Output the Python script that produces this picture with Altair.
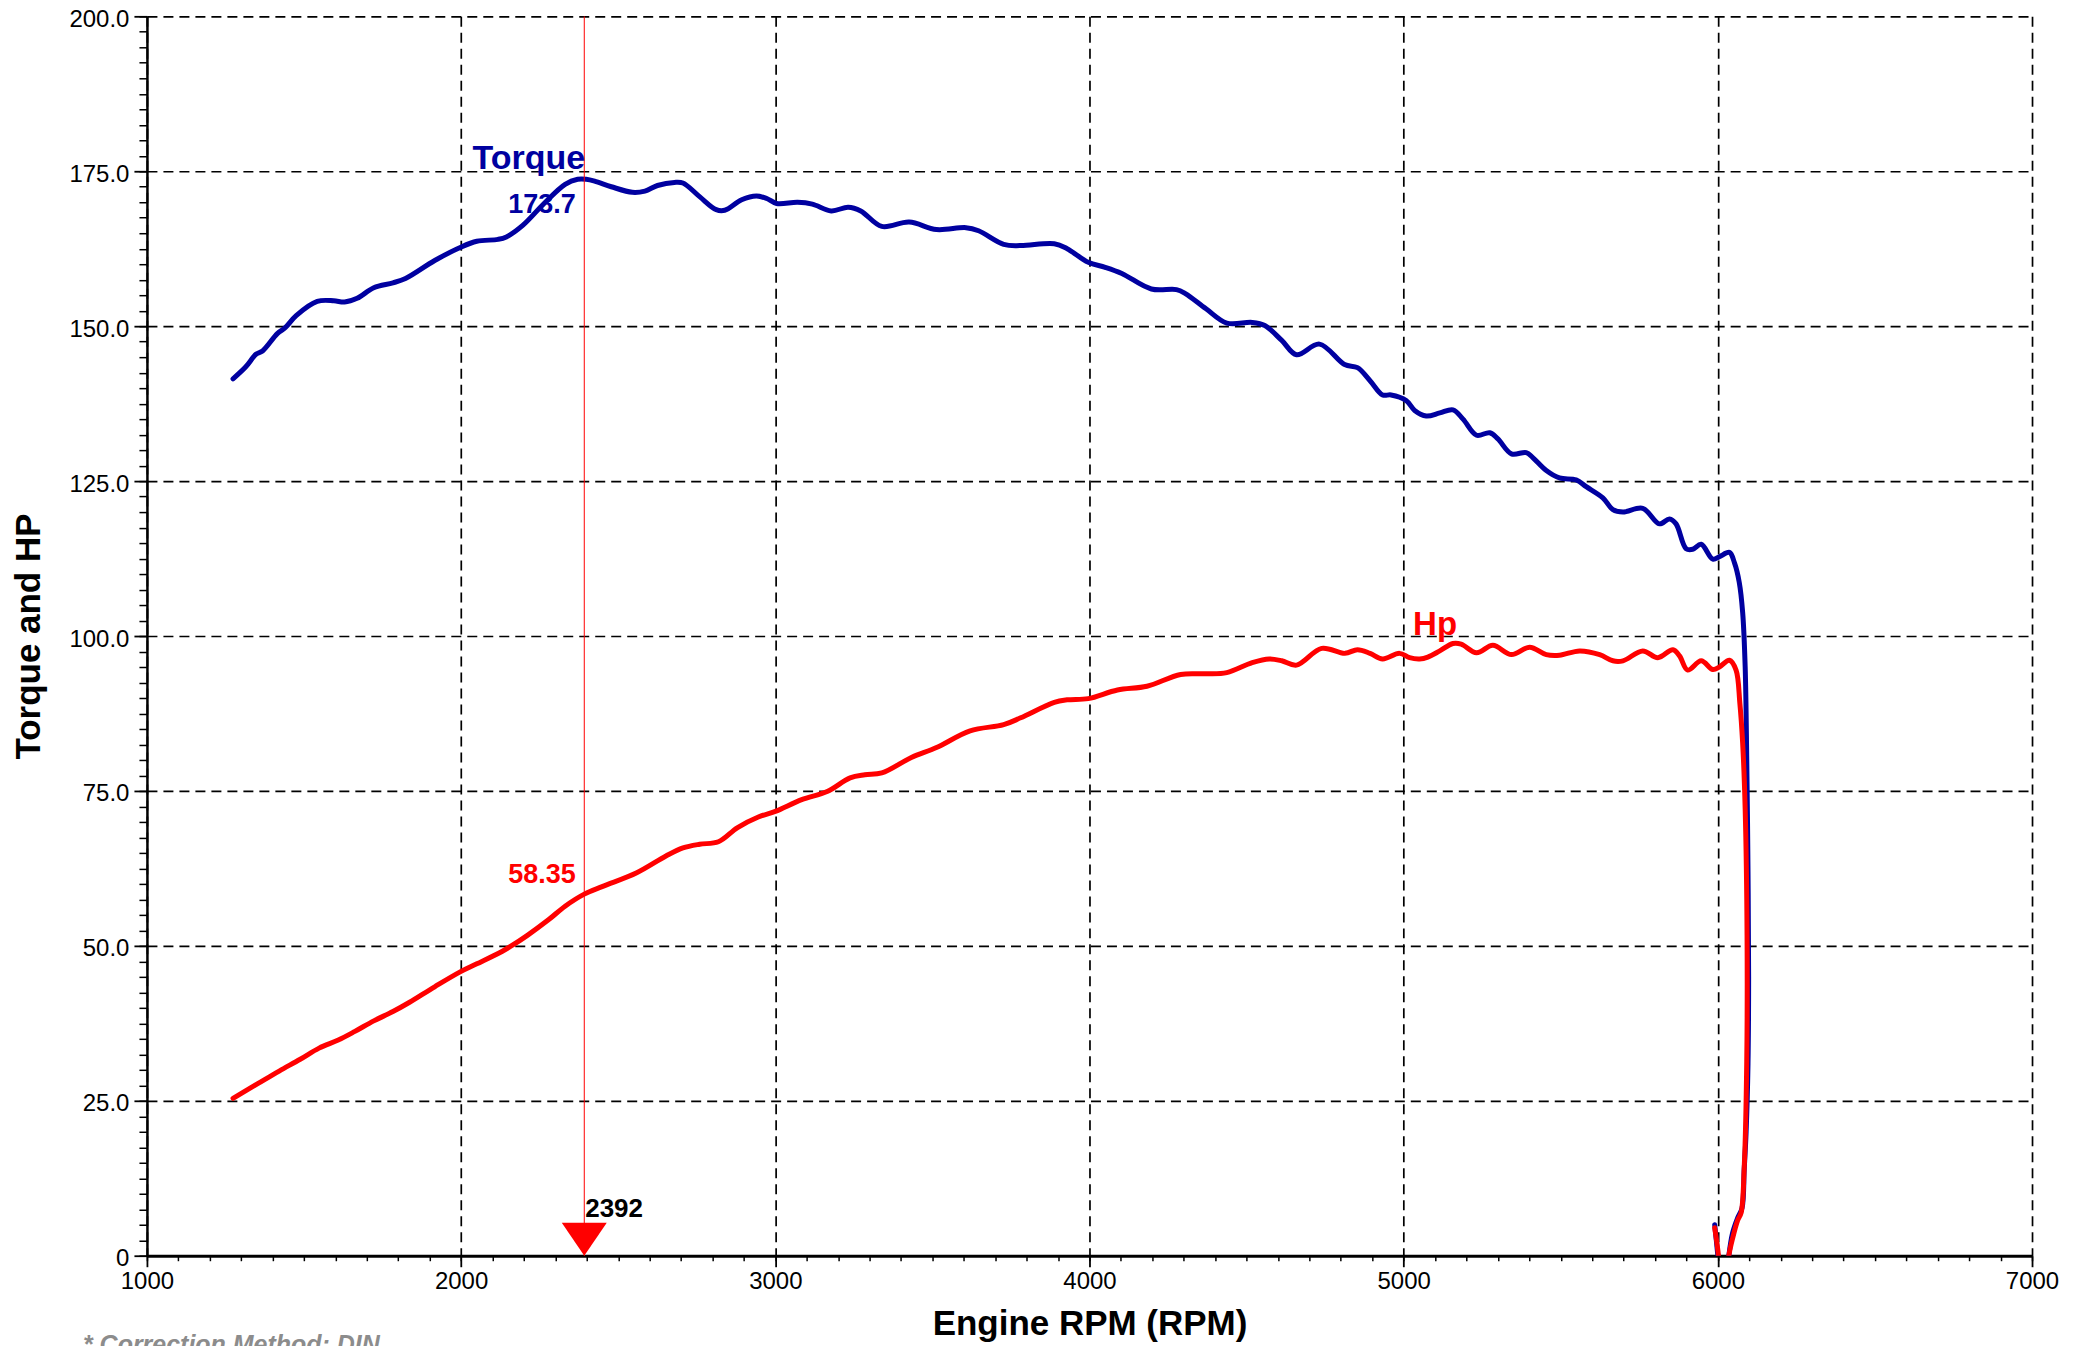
import altair as alt
import pandas as pd

# ---- data ----
rpm_torque = [1274, 1314, 1348, 1368, 1415, 1441, 1475, 1542, 1595, 1629, 1669, 1722, 1783, 1823,
              1916, 1997, 2050, 2117, 2144, 2197, 2264, 2331, 2371, 2398, 2425, 2478, 2545, 2585,
              2625, 2679, 2706, 2759, 2812, 2839, 2893, 2940, 2973, 3004, 3071, 3118, 3178, 3232,
              3272, 3339, 3426, 3513, 3607, 3647, 3727, 3781, 3888, 3929, 3996, 4050, 4103, 4197,
              4277, 4304, 4371, 4437, 4518, 4558, 4612, 4659, 4732, 4812, 4853, 4893, 4933, 4960,
              5008, 5035, 5072, 5115, 5157, 5189, 5232, 5274, 5300, 5343, 5390, 5411, 5454, 5496,
              5549, 5581, 5634, 5666, 5698, 5761, 5814, 5846, 5867, 5899, 5920, 5947, 5984, 6005,
              6037, 6053, 6068, 6079, 6087, 6092, 6096, 6098, 6096, 6090, 6084, 6077, 6063, 6047,
              6035, 6030, 6005, 6000, 5990]
torque = [141.5, 143.4, 145.5, 146.0, 148.8, 149.8, 151.7, 154.0, 154.1, 153.9, 154.5, 156.2, 157.0, 157.7,
          160.6, 162.7, 163.7, 164.0, 164.4, 166.3, 169.8, 172.9, 173.7, 173.7, 173.4, 172.5, 171.6, 171.8,
          172.7, 173.2, 173.1, 170.9, 168.8, 168.7, 170.4, 171.0, 170.6, 169.8, 170.0, 169.7, 168.6, 169.2,
          168.6, 166.1, 166.8, 165.6, 165.9, 165.4, 163.2, 163.0, 163.3, 162.5, 160.3, 159.5, 158.5, 156.0,
          155.9, 155.3, 152.8, 150.5, 150.6, 150.1, 147.7, 145.4, 147.1, 143.8, 143.3, 141.2, 138.9, 138.9,
          138.0, 136.4, 135.5, 136.0, 136.5, 135.0, 132.4, 132.8, 131.8, 129.4, 129.6, 128.8, 126.7, 125.5,
          125.2, 124.1, 122.3, 120.4, 120.0, 120.6, 118.1, 118.9, 118.1, 114.1, 114.0, 114.8, 112.4, 112.8,
          113.5, 111.8, 108.7, 103.8, 95.0, 80.0, 62.0, 45.0, 31.0, 20.0, 14.0, 7.7, 6.1, 3.7,
          0.0, -3.0, -3.0, 0.0, 5.0]

rpm_hp = [1274, 1354, 1421, 1488, 1548, 1609, 1662, 1722, 1783, 1836, 1916, 1997, 2050, 2130,
          2157, 2211, 2278, 2331, 2392, 2451, 2559, 2652, 2706, 2759, 2819, 2880, 2946, 3000,
          3084, 3165, 3238, 3285, 3339, 3433, 3513, 3620, 3727, 3781, 3888, 3929, 3996, 4089,
          4183, 4290, 4371, 4437, 4518, 4572, 4612, 4659, 4739, 4813, 4853, 4893, 4933, 4987,
          5019, 5051, 5077, 5115, 5157, 5183, 5232, 5284, 5343, 5401, 5454, 5496, 5560, 5624,
          5666, 5698, 5761, 5809, 5857, 5878, 5904, 5947, 5984, 6005, 6037, 6058, 6070, 6079,
          6087, 6093, 6092, 6084, 6074, 6063, 6047, 6035, 6030, 6005, 6002, 5990]
hp = [25.4, 27.8, 29.8, 31.7, 33.5, 34.8, 36.2, 37.9, 39.4, 40.9, 43.4, 45.8, 47.1, 49.1,
      49.9, 51.7, 54.2, 56.4, 58.35, 59.6, 61.8, 64.5, 65.8, 66.4, 66.8, 69.1, 70.8, 71.7,
      73.6, 74.9, 77.1, 77.6, 77.9, 80.4, 82.0, 84.7, 85.7, 86.8, 89.3, 89.7, 89.9, 91.3,
      91.9, 93.8, 93.9, 94.1, 95.7, 96.3, 96.0, 95.3, 98.0, 97.2, 97.8, 97.2, 96.3, 97.2,
      96.5, 96.3, 96.6, 97.6, 98.8, 98.7, 97.3, 98.5, 97.0, 98.2, 97.0, 96.9, 97.6, 97.0,
      96.0, 96.0, 97.6, 96.5, 97.8, 96.8, 94.5, 96.0, 94.6, 95.0, 96.1, 94.5, 89.2, 82.7,
      72.1, 51.7, 31.4, 14.3, 6.9, 5.7, 2.8, 0.0, -3.0, -3.0, 0.0, 4.5]

marker_rpm = 2392
marker_text = "2392"
torque_name = "Torque"
hp_name = "Hp"
torque_peak_text = "173.7"
hp_marker_text = "58.35"
caption_text = "* Correction Method: DIN"

x_major = [1000, 2000, 3000, 4000, 5000, 6000, 7000]
x_minor = list(range(1000, 7001, 100))
y_major = [0, 25, 50, 75, 100, 125, 150, 175, 200]
y_minor = [i * 2.5 for i in range(81)]

# ---- style ----
FONT = "Liberation Sans, Arial, Helvetica, sans-serif"
BLUE = "#0000a0"
RED = "#ff0000"
W, H = 1886, 1240
GRID_DASH = [10, 6]

tq_df = pd.DataFrame({"rpm": rpm_torque, "val": torque, "idx": list(range(len(torque)))})
hp_df = pd.DataFrame({"rpm": rpm_hp, "val": hp, "idx": list(range(len(hp)))})

xscale = alt.Scale(domain=[1000, 7000], nice=False, zero=False)
yscale = alt.Scale(domain=[0, 200], nice=False)

x_axis = alt.Axis(
    orient="bottom",
    values=x_major, format="d", grid=True, gridDash=GRID_DASH, gridColor="#000000", gridWidth=1.7,
    ticks=True, tickSize=11, tickWidth=1.8, tickColor="#000000",
    domain=True, domainColor="#000000", domainWidth=3,
    labelFont=FONT, labelFontSize=24, labelColor="#000000", labelPadding=3, labelFlush=False,
    title="Engine RPM (RPM)", titleFont=FONT, titleFontSize=35, titleFontWeight="bold",
    titleColor="#000000", titleX=W / 2, titleY=79, titleBaseline="alphabetic", titleAlign="center",
)
y_axis = alt.Axis(
    orient="left",
    values=y_major, labelExpr="datum.value == 0 ? '0' : format(datum.value, '.1f')",
    grid=True, gridDash=GRID_DASH, gridColor="#000000", gridWidth=1.7,
    ticks=True, tickSize=13, tickWidth=1.8, tickColor="#000000",
    domain=True, domainColor="#000000", domainWidth=2.5,
    labelFont=FONT, labelFontSize=24, labelColor="#000000", labelPadding=5, labelOffset=3,
    title="Torque and HP", titleFont=FONT, titleFontSize=35, titleFontWeight="bold",
    titleColor="#000000", titleAngle=270, titleX=-107, titleY=H / 2,
    titleBaseline="alphabetic", titleAlign="center",
)
x_minor_axis = alt.Axis(orient="bottom", values=x_minor, labels=False, ticks=True, tickSize=5,
                        tickWidth=1.5, tickColor="#000000", domain=False, grid=False, title="")
y_minor_axis = alt.Axis(orient="left", values=y_minor, labels=False, ticks=True, tickSize=8,
                        tickWidth=1.5, tickColor="#000000", domain=False, grid=False, title="")

torque_line = alt.Chart(tq_df).mark_line(color=BLUE, strokeWidth=5, clip=True, interpolate="catmull-rom",
                                         strokeJoin="round", strokeCap="round").encode(
    x=alt.X("rpm:Q", scale=xscale, axis=x_axis),
    y=alt.Y("val:Q", scale=yscale, axis=y_axis),
    order="idx:Q",
)
hp_line = alt.Chart(hp_df).mark_line(color=RED, strokeWidth=5, clip=True, interpolate="catmull-rom",
                                     strokeJoin="round", strokeCap="round").encode(
    x=alt.X("rpm:Q", scale=xscale),
    y=alt.Y("val:Q", scale=yscale),
    order="idx:Q",
)

marker_df = pd.DataFrame({"rpm": [marker_rpm], "val": [0], "t": [marker_text]})
marker_rule = alt.Chart(marker_df).mark_rule(color=RED, strokeWidth=1).encode(
    x=alt.X("rpm:Q", scale=xscale)
)
marker_tri = alt.Chart(marker_df).mark_point(
    shape="M-1,-1.4667L1,-1.4667L0,0Z", size=2025, filled=True, color=RED, opacity=1, strokeWidth=0
).encode(x=alt.X("rpm:Q", scale=xscale), y=alt.Y("val:Q", scale=yscale))
marker_lbl = alt.Chart(pd.DataFrame({"rpm": [marker_rpm + 3], "val": [6.3], "t": [marker_text]})).mark_text(
    font=FONT, fontSize=26, fontWeight="bold", color="#000000", align="left", baseline="alphabetic"
).encode(x=alt.X("rpm:Q", scale=xscale), y=alt.Y("val:Q", scale=yscale), text="t:N")

tq_lbl_df = pd.DataFrame({"rpm": [2395, 2365], "val": [175.3, 168.2],
                          "t": [torque_name, torque_peak_text], "fs": [34, 27]})
tq_lbl = alt.Chart(tq_lbl_df).mark_text(
    font=FONT, fontWeight="bold", color=BLUE, align="right", baseline="alphabetic"
).encode(x=alt.X("rpm:Q", scale=xscale), y=alt.Y("val:Q", scale=yscale), text="t:N",
         size=alt.Size("fs:Q", scale=None, legend=None))

hp_lbl_df = pd.DataFrame({"rpm": [2365], "val": [60.2], "t": [hp_marker_text]})
hp_lbl = alt.Chart(hp_lbl_df).mark_text(
    font=FONT, fontSize=27, fontWeight="bold", color=RED, align="right", baseline="alphabetic"
).encode(x=alt.X("rpm:Q", scale=xscale), y=alt.Y("val:Q", scale=yscale), text="t:N")

hp_name_df = pd.DataFrame({"rpm": [5030], "val": [100.2], "t": [hp_name]})
hp_name_lbl = alt.Chart(hp_name_df).mark_text(
    font=FONT, fontSize=33, fontWeight="bold", color=RED, align="left", baseline="alphabetic"
).encode(x=alt.X("rpm:Q", scale=xscale), y=alt.Y("val:Q", scale=yscale), text="t:N")

caption = alt.Chart(pd.DataFrame({"t": [caption_text]})).mark_text(
    font=FONT, fontSize=25, fontWeight="bold", fontStyle="italic", color="#8c8c8c",
    align="left", baseline="alphabetic", clip=False
).encode(x=alt.value(-64), y=alt.value(1337), text="t:N")

main = alt.layer(torque_line, hp_line, marker_rule, marker_tri, marker_lbl,
                 tq_lbl, hp_lbl, hp_name_lbl, caption)

minor = alt.Chart(tq_df).mark_line(opacity=0).encode(
    x=alt.X("rpm:Q", scale=xscale, axis=x_minor_axis),
    y=alt.Y("val:Q", scale=yscale, axis=y_minor_axis),
    order="idx:Q",
)

chart = alt.layer(minor, main).resolve_axis(x="independent", y="independent").properties(
    width=W, height=H,
    autosize=alt.AutoSizeParams(type="none"),
    padding={"left": 139, "top": 8, "right": 45, "bottom": 90},
    background="#ffffff",
).configure_view(stroke=None)

chart.save("out.html", embed_options={"renderer": "svg", "actions": False})
